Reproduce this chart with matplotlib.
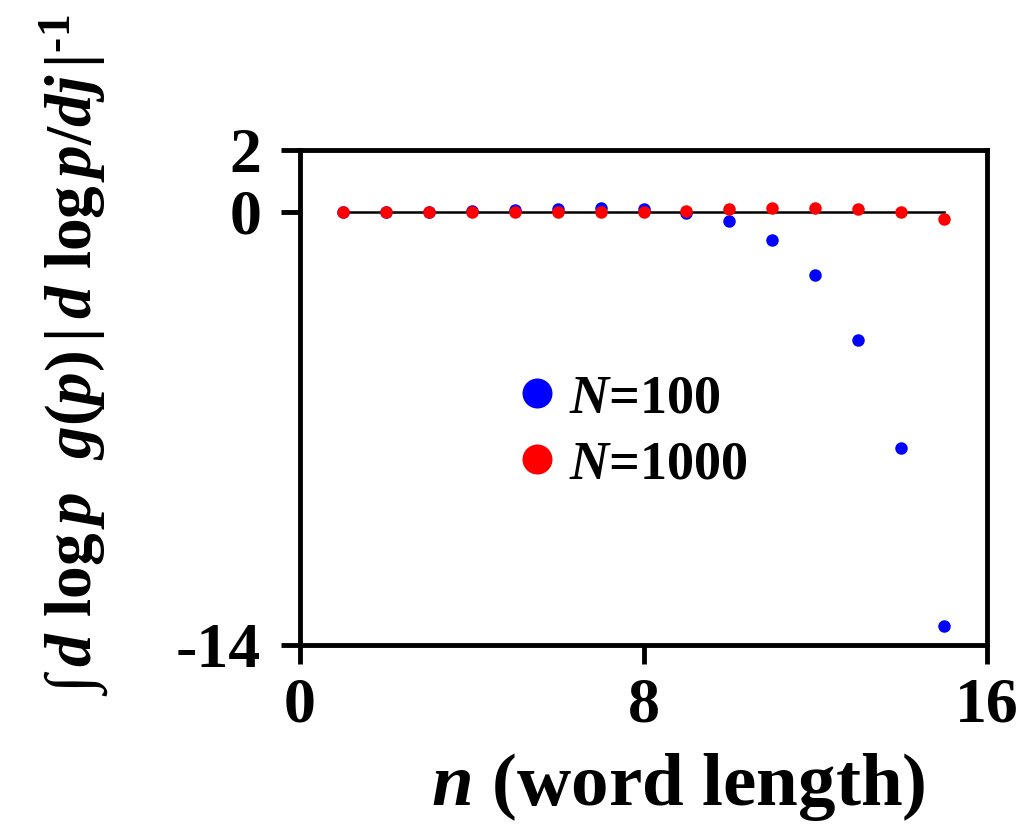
import matplotlib
matplotlib.use("Agg")
from matplotlib import pyplot as plt
import numpy as np

# word length n
n = list(range(1, 16))
# N=100 (blue) and N=1000 (red)
vals_100 = [0.0, 0.0, 0.0, 0.03, 0.06, 0.1, 0.13, 0.1, -0.03, -0.29, -0.9, -2.05, -4.13, -7.63, -13.4]
vals_1000 = [0.0, 0.0, 0.0, 0.0, 0.0, 0.0, 0.0, 0.0, 0.03, 0.1, 0.13, 0.13, 0.1, 0.0, -0.22]
xticks = [0, 8, 16]
yticks = [-14, 0, 2]

plt.rcParams['font.family'] = 'Liberation Serif'
plt.rcParams['font.weight'] = 'bold'
plt.rcParams['axes.unicode_minus'] = False
plt.rcParams['mathtext.fontset'] = 'custom'
plt.rcParams['mathtext.rm'] = 'Liberation Serif:bold'
plt.rcParams['mathtext.it'] = 'Liberation Serif:italic:bold'
plt.rcParams['mathtext.bf'] = 'Liberation Serif:bold'

fig = plt.figure(figsize=(10.26, 8.27), dpi=100)
ax = fig.add_axes([0.2924, 0.220, 0.6696, 0.5986])

ax.plot([n[0], n[-1]], [0, 0], color='black', lw=1.8, zorder=1)
ax.plot(n, vals_100, 'o', color='#0000ff', ms=9, mec='none', label='$N$=100', zorder=2)
ax.plot(n, vals_1000, 'o', color='#ff0000', ms=9, mec='none', label='$N$=1000', zorder=3)

ax.set_xlim(0, 16)
ax.set_ylim(-14, 2)
ax.set_xticks(xticks)
ax.set_yticks(yticks)
ax.tick_params(direction='out', length=14, width=3.5, labelsize=46)
ax.tick_params(axis='x', pad=9)
ax.tick_params(axis='y', pad=14)
for sp in ax.spines.values():
    sp.set_linewidth(3.5)

ax.set_xlabel('$n$ (word length)', fontsize=54, fontweight='bold')
ax.xaxis.set_label_coords(0.55, -0.215)
ax.set_ylabel(r'$\int\, d\ \log p\ \ g(p)\,\left|\,d\ \log p/dj\,\right|^{\text{-}1}$', fontsize=47)
ax.yaxis.set_label_coords(-0.275, 0.586)

leg = ax.legend(loc='center left', bbox_to_anchor=(0.27, 0.43), frameon=False,
                fontsize=39, markerscale=2.4, handlelength=0.9, handletextpad=0.14,
                labelspacing=0.3, borderpad=0)

fig.savefig('out.png', dpi=100)
